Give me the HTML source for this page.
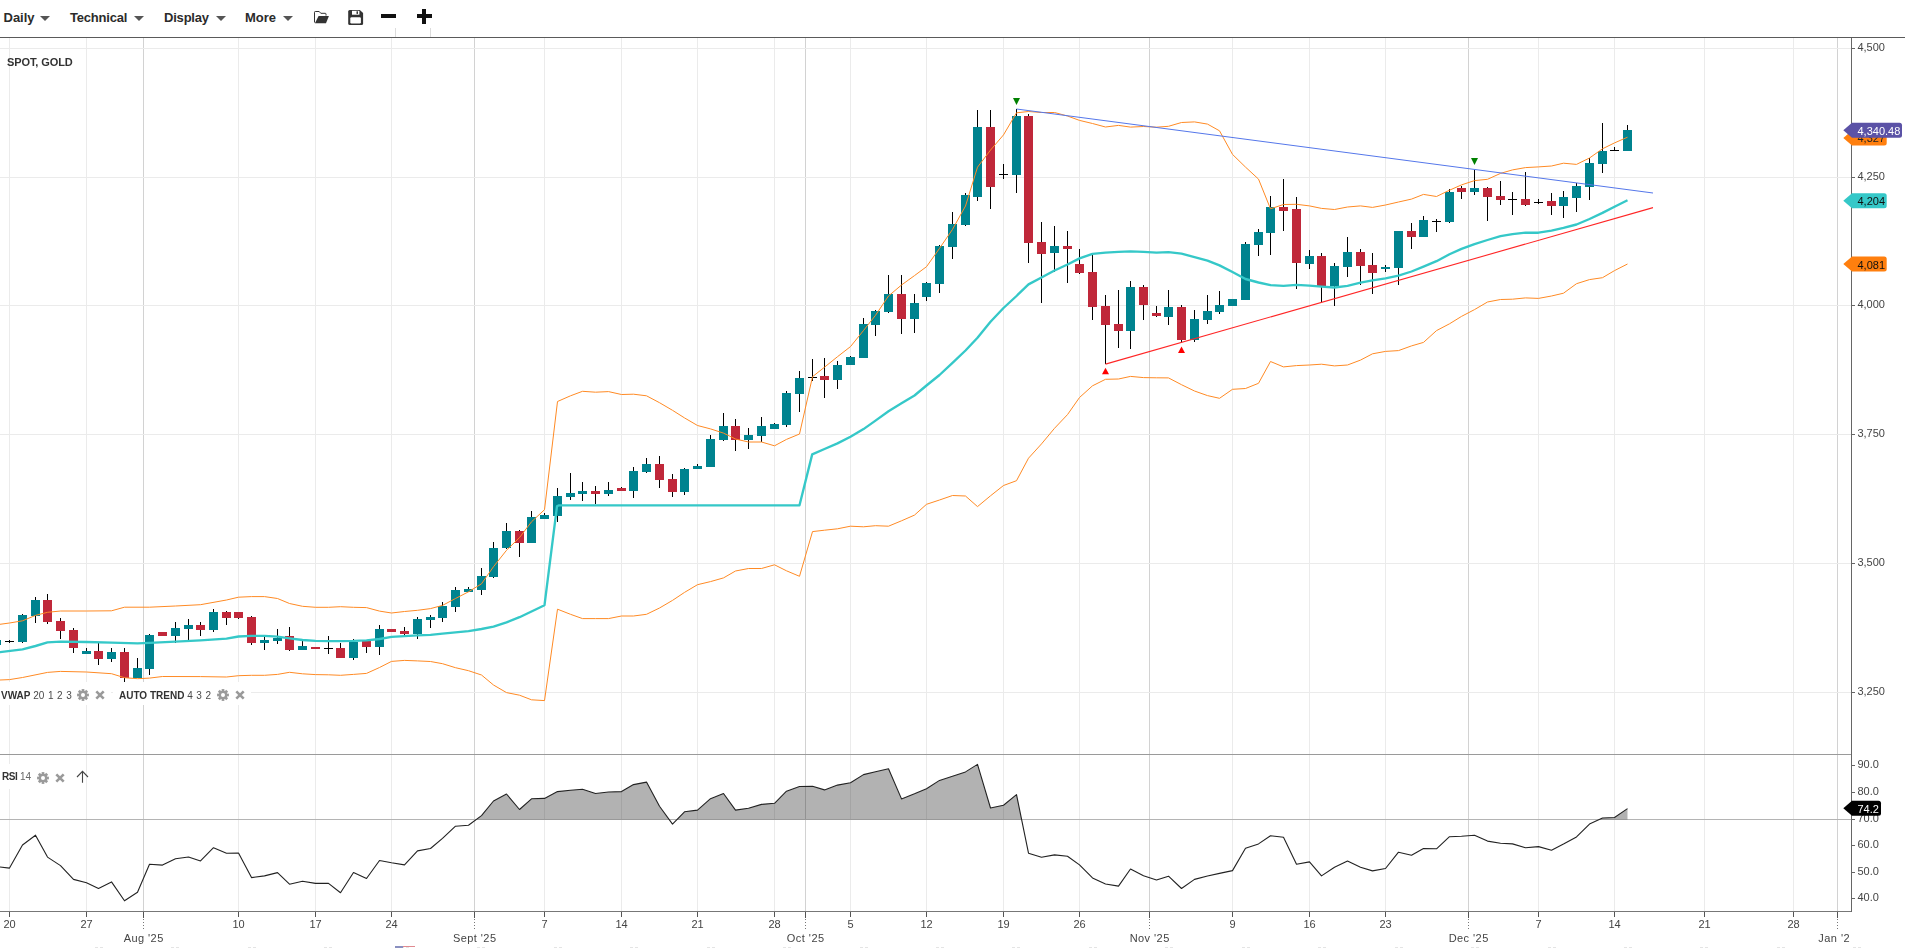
<!DOCTYPE html>
<html><head><meta charset="utf-8"><title>SPOT, GOLD</title>
<style>
html,body{margin:0;padding:0;background:#fff}
body{width:1905px;height:948px;overflow:hidden;position:relative;font-family:"Liberation Sans",sans-serif;color:#2b2b2b}
.tb{position:absolute;top:0;left:0;width:1905px;height:37px;border-bottom:1px solid #5a5a5a;background:#fff}
.m{position:absolute;top:10px;font-size:13px;font-weight:bold;line-height:15px;white-space:nowrap;color:#2b2b2b}
.ca{position:absolute;top:16px;width:0;height:0;border-left:5px solid transparent;border-right:5px solid transparent;border-top:5px solid #555}
.ic{position:absolute}
.lb{position:absolute;will-change:transform;font-size:10px;line-height:12px;white-space:nowrap;color:#4a4a4a;background:#fff}
.lb b{color:#333}
.sep{position:absolute;top:28px;width:1px;height:9px;background:#dcdcdc}
</style></head><body>
<svg width="1905" height="948" viewBox="0 0 1905 948" style="position:absolute;left:0;top:0;will-change:transform">
<defs><clipPath id="cp"><rect x="0" y="38" width="1851" height="716"/></clipPath><clipPath id="cr"><rect x="0" y="755" width="1851" height="156"/></clipPath><clipPath id="cx"><rect x="0" y="912" width="1851" height="36" transform="translate(0.6 0)"/></clipPath></defs>
<g shape-rendering="crispEdges">
<rect x="9" y="38" width="1" height="873" fill="#ebebeb"/>
<rect x="86" y="38" width="1" height="873" fill="#ebebeb"/>
<rect x="143" y="38" width="1" height="873" fill="#d2d2d2"/>
<rect x="238" y="38" width="1" height="873" fill="#ebebeb"/>
<rect x="315" y="38" width="1" height="873" fill="#ebebeb"/>
<rect x="391" y="38" width="1" height="873" fill="#ebebeb"/>
<rect x="474" y="38" width="1" height="873" fill="#d2d2d2"/>
<rect x="544" y="38" width="1" height="873" fill="#ebebeb"/>
<rect x="621" y="38" width="1" height="873" fill="#ebebeb"/>
<rect x="697" y="38" width="1" height="873" fill="#ebebeb"/>
<rect x="774" y="38" width="1" height="873" fill="#ebebeb"/>
<rect x="805" y="38" width="1" height="873" fill="#d2d2d2"/>
<rect x="850" y="38" width="1" height="873" fill="#ebebeb"/>
<rect x="926" y="38" width="1" height="873" fill="#ebebeb"/>
<rect x="1003" y="38" width="1" height="873" fill="#ebebeb"/>
<rect x="1079" y="38" width="1" height="873" fill="#ebebeb"/>
<rect x="1149" y="38" width="1" height="873" fill="#d2d2d2"/>
<rect x="1232" y="38" width="1" height="873" fill="#ebebeb"/>
<rect x="1309" y="38" width="1" height="873" fill="#ebebeb"/>
<rect x="1385" y="38" width="1" height="873" fill="#ebebeb"/>
<rect x="1468" y="38" width="1" height="873" fill="#d2d2d2"/>
<rect x="1538" y="38" width="1" height="873" fill="#ebebeb"/>
<rect x="1614" y="38" width="1" height="873" fill="#ebebeb"/>
<rect x="1704" y="38" width="1" height="873" fill="#ebebeb"/>
<rect x="1793" y="38" width="1" height="873" fill="#ebebeb"/>
<rect x="1837" y="38" width="1" height="873" fill="#d2d2d2"/>
<rect x="0" y="48" width="1851" height="1" fill="#ebebeb"/>
<rect x="0" y="177" width="1851" height="1" fill="#ebebeb"/>
<rect x="0" y="305" width="1851" height="1" fill="#ebebeb"/>
<rect x="0" y="434" width="1851" height="1" fill="#ebebeb"/>
<rect x="0" y="563" width="1851" height="1" fill="#ebebeb"/>
<rect x="0" y="692" width="1851" height="1" fill="#ebebeb"/>
</g>
<g clip-path="url(#cp)" fill="none">
<g shape-rendering="crispEdges">
<rect x="-4" y="640" width="1" height="5" fill="#000"/>
<rect x="-8" y="640" width="9" height="5" fill="#00838f"/>
<rect x="9" y="640" width="1" height="3" fill="#000"/>
<rect x="5" y="641" width="9" height="1" fill="#000"/>
<rect x="22" y="614" width="1" height="29" fill="#000"/>
<rect x="18" y="615" width="9" height="27" fill="#00838f"/>
<rect x="35" y="597" width="1" height="26" fill="#000"/>
<rect x="31" y="600" width="9" height="16" fill="#00838f"/>
<rect x="47" y="594" width="1" height="30" fill="#000"/>
<rect x="43" y="600" width="9" height="22" fill="#c0283a"/>
<rect x="60" y="618" width="1" height="21" fill="#000"/>
<rect x="56" y="621" width="9" height="10" fill="#c0283a"/>
<rect x="73" y="628" width="1" height="25" fill="#000"/>
<rect x="69" y="630" width="9" height="18" fill="#c0283a"/>
<rect x="86" y="648" width="1" height="6" fill="#000"/>
<rect x="82" y="651" width="9" height="3" fill="#00838f"/>
<rect x="98" y="643" width="1" height="22" fill="#000"/>
<rect x="94" y="651" width="9" height="8" fill="#c0283a"/>
<rect x="111" y="648" width="1" height="14" fill="#000"/>
<rect x="107" y="652" width="9" height="7" fill="#00838f"/>
<rect x="124" y="648" width="1" height="34" fill="#000"/>
<rect x="120" y="652" width="9" height="26" fill="#c0283a"/>
<rect x="137" y="658" width="1" height="20" fill="#000"/>
<rect x="133" y="668" width="9" height="10" fill="#00838f"/>
<rect x="149" y="634" width="1" height="41" fill="#000"/>
<rect x="145" y="635" width="9" height="34" fill="#00838f"/>
<rect x="162" y="632" width="1" height="4" fill="#000"/>
<rect x="158" y="632" width="9" height="4" fill="#c0283a"/>
<rect x="175" y="622" width="1" height="21" fill="#000"/>
<rect x="171" y="628" width="9" height="8" fill="#00838f"/>
<rect x="188" y="619" width="1" height="21" fill="#000"/>
<rect x="184" y="625" width="9" height="4" fill="#00838f"/>
<rect x="200" y="622" width="1" height="14" fill="#000"/>
<rect x="196" y="625" width="9" height="5" fill="#c0283a"/>
<rect x="213" y="609" width="1" height="23" fill="#000"/>
<rect x="209" y="612" width="9" height="18" fill="#00838f"/>
<rect x="226" y="611" width="1" height="14" fill="#000"/>
<rect x="222" y="612" width="9" height="6" fill="#c0283a"/>
<rect x="238" y="612" width="1" height="7" fill="#000"/>
<rect x="234" y="612" width="9" height="6" fill="#c0283a"/>
<rect x="251" y="616" width="1" height="29" fill="#000"/>
<rect x="247" y="617" width="9" height="26" fill="#c0283a"/>
<rect x="264" y="635" width="1" height="15" fill="#000"/>
<rect x="260" y="640" width="9" height="3" fill="#00838f"/>
<rect x="277" y="629" width="1" height="15" fill="#000"/>
<rect x="273" y="638" width="9" height="3" fill="#00838f"/>
<rect x="289" y="627" width="1" height="24" fill="#000"/>
<rect x="285" y="636" width="9" height="14" fill="#c0283a"/>
<rect x="302" y="641" width="1" height="9" fill="#000"/>
<rect x="298" y="646" width="9" height="4" fill="#00838f"/>
<rect x="315" y="647" width="1" height="2" fill="#000"/>
<rect x="311" y="647" width="9" height="2" fill="#c0283a"/>
<rect x="328" y="636" width="1" height="18" fill="#000"/>
<rect x="324" y="648" width="9" height="1" fill="#000"/>
<rect x="340" y="643" width="1" height="15" fill="#000"/>
<rect x="336" y="648" width="9" height="10" fill="#c0283a"/>
<rect x="353" y="639" width="1" height="21" fill="#000"/>
<rect x="349" y="642" width="9" height="16" fill="#00838f"/>
<rect x="366" y="641" width="1" height="12" fill="#000"/>
<rect x="362" y="641" width="9" height="6" fill="#c0283a"/>
<rect x="379" y="625" width="1" height="30" fill="#000"/>
<rect x="375" y="629" width="9" height="18" fill="#00838f"/>
<rect x="391" y="629" width="1" height="3" fill="#000"/>
<rect x="387" y="629" width="9" height="3" fill="#c0283a"/>
<rect x="404" y="627" width="1" height="8" fill="#000"/>
<rect x="400" y="631" width="9" height="3" fill="#c0283a"/>
<rect x="417" y="617" width="1" height="22" fill="#000"/>
<rect x="413" y="619" width="9" height="15" fill="#00838f"/>
<rect x="430" y="615" width="1" height="13" fill="#000"/>
<rect x="426" y="617" width="9" height="3" fill="#00838f"/>
<rect x="442" y="602" width="1" height="20" fill="#000"/>
<rect x="438" y="606" width="9" height="12" fill="#00838f"/>
<rect x="455" y="587" width="1" height="25" fill="#000"/>
<rect x="451" y="590" width="9" height="17" fill="#00838f"/>
<rect x="468" y="587" width="1" height="5" fill="#000"/>
<rect x="464" y="589" width="9" height="3" fill="#00838f"/>
<rect x="481" y="568" width="1" height="27" fill="#000"/>
<rect x="477" y="576" width="9" height="14" fill="#00838f"/>
<rect x="493" y="542" width="1" height="36" fill="#000"/>
<rect x="489" y="548" width="9" height="29" fill="#00838f"/>
<rect x="506" y="523" width="1" height="26" fill="#000"/>
<rect x="502" y="531" width="9" height="17" fill="#00838f"/>
<rect x="519" y="530" width="1" height="27" fill="#000"/>
<rect x="515" y="531" width="9" height="12" fill="#c0283a"/>
<rect x="531" y="511" width="1" height="32" fill="#000"/>
<rect x="527" y="517" width="9" height="26" fill="#00838f"/>
<rect x="544" y="513" width="1" height="6" fill="#000"/>
<rect x="540" y="515" width="9" height="4" fill="#00838f"/>
<rect x="557" y="488" width="1" height="34" fill="#000"/>
<rect x="553" y="496" width="9" height="20" fill="#00838f"/>
<rect x="570" y="473" width="1" height="27" fill="#000"/>
<rect x="566" y="493" width="9" height="4" fill="#00838f"/>
<rect x="582" y="482" width="1" height="19" fill="#000"/>
<rect x="578" y="491" width="9" height="3" fill="#00838f"/>
<rect x="595" y="486" width="1" height="18" fill="#000"/>
<rect x="591" y="491" width="9" height="3" fill="#c0283a"/>
<rect x="608" y="482" width="1" height="14" fill="#000"/>
<rect x="604" y="490" width="9" height="4" fill="#00838f"/>
<rect x="621" y="487" width="1" height="4" fill="#000"/>
<rect x="617" y="488" width="9" height="3" fill="#c0283a"/>
<rect x="633" y="467" width="1" height="31" fill="#000"/>
<rect x="629" y="471" width="9" height="20" fill="#00838f"/>
<rect x="646" y="458" width="1" height="15" fill="#000"/>
<rect x="642" y="464" width="9" height="8" fill="#00838f"/>
<rect x="659" y="456" width="1" height="32" fill="#000"/>
<rect x="655" y="464" width="9" height="16" fill="#c0283a"/>
<rect x="672" y="474" width="1" height="23" fill="#000"/>
<rect x="668" y="479" width="9" height="13" fill="#c0283a"/>
<rect x="684" y="468" width="1" height="27" fill="#000"/>
<rect x="680" y="469" width="9" height="23" fill="#00838f"/>
<rect x="697" y="464" width="1" height="5" fill="#000"/>
<rect x="693" y="466" width="9" height="3" fill="#00838f"/>
<rect x="710" y="435" width="1" height="32" fill="#000"/>
<rect x="706" y="439" width="9" height="28" fill="#00838f"/>
<rect x="723" y="413" width="1" height="28" fill="#000"/>
<rect x="719" y="426" width="9" height="14" fill="#00838f"/>
<rect x="735" y="419" width="1" height="32" fill="#000"/>
<rect x="731" y="426" width="9" height="14" fill="#c0283a"/>
<rect x="748" y="428" width="1" height="21" fill="#000"/>
<rect x="744" y="435" width="9" height="5" fill="#00838f"/>
<rect x="761" y="417" width="1" height="25" fill="#000"/>
<rect x="757" y="426" width="9" height="10" fill="#00838f"/>
<rect x="774" y="423" width="1" height="6" fill="#000"/>
<rect x="770" y="424" width="9" height="5" fill="#00838f"/>
<rect x="786" y="391" width="1" height="36" fill="#000"/>
<rect x="782" y="393" width="9" height="32" fill="#00838f"/>
<rect x="799" y="371" width="1" height="41" fill="#000"/>
<rect x="795" y="378" width="9" height="16" fill="#00838f"/>
<rect x="812" y="359" width="1" height="22" fill="#000"/>
<rect x="808" y="377" width="9" height="1" fill="#000"/>
<rect x="824" y="358" width="1" height="40" fill="#000"/>
<rect x="820" y="376" width="9" height="4" fill="#c0283a"/>
<rect x="837" y="361" width="1" height="28" fill="#000"/>
<rect x="833" y="365" width="9" height="15" fill="#00838f"/>
<rect x="850" y="356" width="1" height="9" fill="#000"/>
<rect x="846" y="357" width="9" height="8" fill="#00838f"/>
<rect x="863" y="318" width="1" height="40" fill="#000"/>
<rect x="859" y="324" width="9" height="34" fill="#00838f"/>
<rect x="875" y="310" width="1" height="26" fill="#000"/>
<rect x="871" y="311" width="9" height="14" fill="#00838f"/>
<rect x="888" y="275" width="1" height="38" fill="#000"/>
<rect x="884" y="294" width="9" height="18" fill="#00838f"/>
<rect x="901" y="275" width="1" height="59" fill="#000"/>
<rect x="897" y="294" width="9" height="25" fill="#c0283a"/>
<rect x="914" y="294" width="1" height="39" fill="#000"/>
<rect x="910" y="303" width="9" height="16" fill="#00838f"/>
<rect x="926" y="282" width="1" height="19" fill="#000"/>
<rect x="922" y="283" width="9" height="14" fill="#00838f"/>
<rect x="939" y="245" width="1" height="48" fill="#000"/>
<rect x="935" y="246" width="9" height="38" fill="#00838f"/>
<rect x="952" y="212" width="1" height="47" fill="#000"/>
<rect x="948" y="224" width="9" height="23" fill="#00838f"/>
<rect x="965" y="193" width="1" height="33" fill="#000"/>
<rect x="961" y="195" width="9" height="30" fill="#00838f"/>
<rect x="977" y="110" width="1" height="91" fill="#000"/>
<rect x="973" y="127" width="9" height="70" fill="#00838f"/>
<rect x="990" y="110" width="1" height="99" fill="#000"/>
<rect x="986" y="127" width="9" height="60" fill="#c0283a"/>
<rect x="1003" y="164" width="1" height="15" fill="#000"/>
<rect x="999" y="174" width="9" height="1" fill="#000"/>
<rect x="1016" y="109" width="1" height="84" fill="#000"/>
<rect x="1012" y="116" width="9" height="59" fill="#00838f"/>
<rect x="1028" y="114" width="1" height="149" fill="#000"/>
<rect x="1024" y="116" width="9" height="127" fill="#c0283a"/>
<rect x="1041" y="222" width="1" height="81" fill="#000"/>
<rect x="1037" y="242" width="9" height="12" fill="#c0283a"/>
<rect x="1054" y="226" width="1" height="46" fill="#000"/>
<rect x="1050" y="246" width="9" height="7" fill="#00838f"/>
<rect x="1067" y="231" width="1" height="52" fill="#000"/>
<rect x="1063" y="246" width="9" height="3" fill="#c0283a"/>
<rect x="1079" y="249" width="1" height="25" fill="#000"/>
<rect x="1075" y="264" width="9" height="9" fill="#c0283a"/>
<rect x="1092" y="255" width="1" height="65" fill="#000"/>
<rect x="1088" y="272" width="9" height="35" fill="#c0283a"/>
<rect x="1105" y="295" width="1" height="69" fill="#000"/>
<rect x="1101" y="306" width="9" height="19" fill="#c0283a"/>
<rect x="1118" y="290" width="1" height="58" fill="#000"/>
<rect x="1114" y="324" width="9" height="7" fill="#c0283a"/>
<rect x="1130" y="281" width="1" height="68" fill="#000"/>
<rect x="1126" y="287" width="9" height="44" fill="#00838f"/>
<rect x="1143" y="285" width="1" height="35" fill="#000"/>
<rect x="1139" y="287" width="9" height="18" fill="#c0283a"/>
<rect x="1156" y="306" width="1" height="11" fill="#000"/>
<rect x="1152" y="313" width="9" height="3" fill="#c0283a"/>
<rect x="1168" y="290" width="1" height="35" fill="#000"/>
<rect x="1164" y="307" width="9" height="10" fill="#00838f"/>
<rect x="1181" y="305" width="1" height="38" fill="#000"/>
<rect x="1177" y="307" width="9" height="33" fill="#c0283a"/>
<rect x="1194" y="310" width="1" height="32" fill="#000"/>
<rect x="1190" y="319" width="9" height="21" fill="#00838f"/>
<rect x="1207" y="295" width="1" height="29" fill="#000"/>
<rect x="1203" y="311" width="9" height="9" fill="#00838f"/>
<rect x="1219" y="291" width="1" height="23" fill="#000"/>
<rect x="1215" y="305" width="9" height="7" fill="#00838f"/>
<rect x="1232" y="299" width="1" height="7" fill="#000"/>
<rect x="1228" y="299" width="9" height="7" fill="#00838f"/>
<rect x="1245" y="242" width="1" height="58" fill="#000"/>
<rect x="1241" y="244" width="9" height="56" fill="#00838f"/>
<rect x="1258" y="229" width="1" height="27" fill="#000"/>
<rect x="1254" y="232" width="9" height="13" fill="#00838f"/>
<rect x="1270" y="196" width="1" height="59" fill="#000"/>
<rect x="1266" y="207" width="9" height="26" fill="#00838f"/>
<rect x="1283" y="179" width="1" height="52" fill="#000"/>
<rect x="1279" y="207" width="9" height="4" fill="#c0283a"/>
<rect x="1296" y="197" width="1" height="92" fill="#000"/>
<rect x="1292" y="209" width="9" height="54" fill="#c0283a"/>
<rect x="1309" y="250" width="1" height="19" fill="#000"/>
<rect x="1305" y="256" width="9" height="8" fill="#00838f"/>
<rect x="1321" y="253" width="1" height="49" fill="#000"/>
<rect x="1317" y="256" width="9" height="30" fill="#c0283a"/>
<rect x="1334" y="263" width="1" height="43" fill="#000"/>
<rect x="1330" y="266" width="9" height="20" fill="#00838f"/>
<rect x="1347" y="237" width="1" height="40" fill="#000"/>
<rect x="1343" y="252" width="9" height="15" fill="#00838f"/>
<rect x="1360" y="249" width="1" height="36" fill="#000"/>
<rect x="1356" y="252" width="9" height="14" fill="#c0283a"/>
<rect x="1372" y="253" width="1" height="41" fill="#000"/>
<rect x="1368" y="265" width="9" height="8" fill="#c0283a"/>
<rect x="1385" y="265" width="1" height="7" fill="#000"/>
<rect x="1381" y="267" width="9" height="2" fill="#00838f"/>
<rect x="1398" y="231" width="1" height="54" fill="#000"/>
<rect x="1394" y="231" width="9" height="37" fill="#00838f"/>
<rect x="1411" y="223" width="1" height="26" fill="#000"/>
<rect x="1407" y="231" width="9" height="6" fill="#c0283a"/>
<rect x="1423" y="216" width="1" height="21" fill="#000"/>
<rect x="1419" y="220" width="9" height="17" fill="#00838f"/>
<rect x="1436" y="219" width="1" height="13" fill="#000"/>
<rect x="1432" y="221" width="9" height="1" fill="#000"/>
<rect x="1449" y="189" width="1" height="34" fill="#000"/>
<rect x="1445" y="192" width="9" height="30" fill="#00838f"/>
<rect x="1461" y="186" width="1" height="13" fill="#000"/>
<rect x="1457" y="188" width="9" height="4" fill="#c0283a"/>
<rect x="1474" y="170" width="1" height="25" fill="#000"/>
<rect x="1470" y="188" width="9" height="4" fill="#00838f"/>
<rect x="1487" y="187" width="1" height="34" fill="#000"/>
<rect x="1483" y="188" width="9" height="9" fill="#c0283a"/>
<rect x="1500" y="181" width="1" height="24" fill="#000"/>
<rect x="1496" y="196" width="9" height="4" fill="#c0283a"/>
<rect x="1512" y="192" width="1" height="23" fill="#000"/>
<rect x="1508" y="199" width="9" height="1" fill="#000"/>
<rect x="1525" y="172" width="1" height="34" fill="#000"/>
<rect x="1521" y="199" width="9" height="6" fill="#c0283a"/>
<rect x="1538" y="199" width="1" height="5" fill="#000"/>
<rect x="1534" y="202" width="9" height="1" fill="#000"/>
<rect x="1551" y="193" width="1" height="22" fill="#000"/>
<rect x="1547" y="201" width="9" height="5" fill="#c0283a"/>
<rect x="1563" y="191" width="1" height="27" fill="#000"/>
<rect x="1559" y="197" width="9" height="9" fill="#00838f"/>
<rect x="1576" y="183" width="1" height="29" fill="#000"/>
<rect x="1572" y="186" width="9" height="12" fill="#00838f"/>
<rect x="1589" y="158" width="1" height="42" fill="#000"/>
<rect x="1585" y="163" width="9" height="24" fill="#00838f"/>
<rect x="1602" y="123" width="1" height="50" fill="#000"/>
<rect x="1598" y="151" width="9" height="13" fill="#00838f"/>
<rect x="1614" y="147" width="1" height="4" fill="#000"/>
<rect x="1610" y="150" width="9" height="1" fill="#000"/>
<rect x="1627" y="125" width="1" height="26" fill="#000"/>
<rect x="1623" y="130" width="9" height="21" fill="#00838f"/>
</g>
<polyline points="-3.0,680.2 0.0,680.0 9.5,679.6 22.5,677.5 47.5,672.4 60.5,671.4 86.5,672.0 111.5,673.7 124.5,677.7 137.5,678.7 149.5,678.1 162.5,676.5 200.5,676.6 226.5,677.0 238.5,675.7 251.5,675.3 264.5,675.3 277.5,674.4 289.5,672.3 302.5,673.8 315.5,674.6 328.5,674.8 340.5,675.3 353.5,674.4 366.5,673.4 379.5,667.5 391.5,661.4 404.5,660.4 417.5,660.9 430.5,661.5 442.5,663.7 455.5,667.7 468.5,670.7 481.5,675.0 493.5,685.0 506.5,692.6 519.5,695.2 531.5,699.8 544.5,700.6 557.5,609.2 570.5,614.3 582.5,618.6 595.5,618.6 608.5,618.6 621.5,616.0 633.5,616.0 646.5,614.3 659.5,608.0 672.5,600.4 684.5,592.4 697.5,584.7 710.5,581.6 723.5,577.9 735.5,571.0 748.5,568.5 761.5,568.5 774.5,564.8 786.5,570.8 799.5,576.3 812.5,531.6 824.5,530.2 837.5,528.8 850.5,526.2 863.5,526.8 875.5,525.7 888.5,526.2 901.5,520.8 914.5,515.1 926.5,504.3 939.5,500.0 952.5,495.5 965.5,496.0 977.5,506.6 990.5,495.8 1003.5,485.5 1016.5,480.7 1028.5,458.2 1041.5,443.9 1054.5,428.3 1067.5,414.6 1079.5,397.5 1092.5,385.8 1105.5,379.3 1118.5,379.0 1130.5,376.4 1143.5,377.6 1156.5,377.8 1168.5,377.9 1181.5,384.7 1194.5,391.0 1207.5,395.6 1219.5,398.3 1232.5,389.3 1245.5,388.5 1258.5,383.3 1270.5,361.5 1283.5,366.9 1296.5,365.6 1309.5,365.0 1321.5,364.2 1334.5,365.9 1347.5,365.0 1360.5,360.1 1372.5,353.8 1385.5,351.4 1398.5,350.6 1411.5,345.9 1423.5,342.4 1436.5,330.6 1449.5,323.8 1461.5,316.4 1474.5,309.6 1487.5,302.0 1500.5,299.5 1512.5,299.2 1525.5,297.9 1538.5,298.4 1551.5,296.0 1563.5,293.2 1576.5,283.7 1589.5,279.6 1602.5,277.7 1614.5,270.6 1627.5,264.0" stroke="#ff8a24" stroke-width="1" stroke-linejoin="round"/>
<polyline points="-3.0,624.6 0.0,624.3 9.5,623.0 22.5,620.8 35.5,615.4 47.5,612.3 60.5,611.0 86.5,611.0 111.5,610.8 124.5,607.2 149.5,607.2 175.5,606.0 200.5,604.7 226.5,600.0 238.5,597.2 251.5,596.6 264.5,596.6 277.5,598.5 289.5,603.5 302.5,606.3 315.5,607.3 328.5,607.3 340.5,606.7 353.5,607.3 366.5,607.6 379.5,611.1 391.5,613.0 404.5,611.5 417.5,610.3 430.5,608.6 442.5,605.4 455.5,598.5 468.5,591.8 481.5,583.8 493.5,566.7 506.5,550.3 519.5,537.6 531.5,521.8 544.5,509.7 557.5,401.5 570.5,395.8 582.5,391.3 595.5,392.2 608.5,391.6 621.5,394.5 633.5,394.2 646.5,395.8 659.5,402.7 672.5,410.3 684.5,417.9 697.5,425.5 710.5,428.9 723.5,433.1 735.5,439.0 748.5,442.0 761.5,442.0 774.5,445.8 786.5,439.4 799.5,434.0 812.5,376.7 824.5,367.2 837.5,356.7 850.5,346.6 863.5,330.5 875.5,315.3 888.5,296.0 901.5,285.0 914.5,275.6 926.5,266.7 939.5,248.4 952.5,229.4 965.5,206.0 977.5,167.2 990.5,150.1 1003.5,134.9 1016.5,112.8 1028.5,111.5 1041.5,112.5 1054.5,112.5 1067.5,116.0 1079.5,120.4 1092.5,123.5 1105.5,127.0 1118.5,125.4 1130.5,127.1 1143.5,126.5 1156.5,127.2 1168.5,126.3 1181.5,122.5 1194.5,121.9 1207.5,124.1 1219.5,130.8 1232.5,154.4 1245.5,167.1 1258.5,179.1 1270.5,208.8 1283.5,204.5 1296.5,204.3 1309.5,205.9 1321.5,208.4 1334.5,209.5 1347.5,207.0 1360.5,205.9 1372.5,207.4 1385.5,205.0 1398.5,202.0 1411.5,199.1 1423.5,194.4 1436.5,196.5 1449.5,190.2 1461.5,184.9 1474.5,180.6 1487.5,179.3 1500.5,173.4 1512.5,169.9 1525.5,167.6 1538.5,166.9 1551.5,166.0 1563.5,163.2 1576.5,164.4 1589.5,158.0 1602.5,148.8 1614.5,142.9 1627.5,137.2" stroke="#ff8a24" stroke-width="1" stroke-linejoin="round"/>
<polyline points="-3.0,652.5 0.0,652.2 22.5,649.4 35.5,646.0 47.5,642.4 60.5,641.6 86.5,642.0 111.5,642.7 137.5,643.3 149.5,642.9 175.5,641.6 200.5,640.4 226.5,638.6 238.5,636.5 251.5,635.8 264.5,635.8 277.5,636.7 289.5,638.4 302.5,640.0 315.5,640.9 328.5,641.1 340.5,641.1 353.5,640.9 366.5,640.3 379.5,639.0 391.5,636.8 404.5,636.1 417.5,635.4 430.5,634.8 442.5,633.7 455.5,632.4 468.5,631.1 481.5,629.0 493.5,626.6 506.5,622.3 519.5,617.2 531.5,611.5 544.5,605.2 557.0,506.3 559.0,505.3 799.5,505.3 812.2,454.4 824.5,449.0 837.5,443.4 850.5,436.8 863.5,429.1 875.5,420.6 888.5,411.2 901.5,403.2 914.5,395.5 926.5,385.5 939.5,375.0 952.5,362.8 965.5,350.5 977.5,337.7 990.5,321.8 1003.5,308.0 1016.5,296.0 1028.5,284.4 1041.5,277.5 1054.5,270.5 1067.5,264.5 1079.5,258.4 1092.5,253.8 1105.5,252.6 1118.5,251.9 1130.5,251.4 1143.5,251.9 1156.5,252.6 1168.5,252.1 1181.5,253.7 1194.5,257.1 1207.5,260.6 1219.5,265.4 1232.5,272.0 1245.5,279.0 1258.5,282.5 1270.5,285.2 1283.5,285.9 1296.5,284.9 1309.5,285.6 1321.5,286.6 1334.5,287.5 1347.5,285.9 1360.5,282.7 1372.5,280.4 1385.5,278.3 1398.5,275.6 1411.5,271.5 1423.5,266.7 1436.5,261.2 1449.5,254.3 1461.5,248.9 1474.5,244.1 1487.5,240.0 1500.5,236.2 1512.5,234.1 1525.5,232.7 1538.5,232.7 1551.5,230.7 1563.5,227.9 1576.5,224.5 1589.5,219.0 1602.5,212.9 1614.5,206.7 1627.5,200.3" stroke="#35c8c8" stroke-width="2.35" stroke-linejoin="round" stroke-linecap="butt"/>
<line x1="1016.5" y1="109" x2="1653" y2="193" stroke="#5577ea" stroke-width="1"/>
<line x1="1105.5" y1="364.1" x2="1653" y2="207.6" stroke="#ff2626" stroke-width="1.1"/>
<path d="M1013 98h7l-3.5 7z" fill="#008000"/>
<path d="M1471 158h7l-3.5 7z" fill="#008000"/>
<path d="M1102 374.3h7l-3.5-6.6z" fill="#ff0000"/>
<path d="M1178 353h7l-3.5-6.6z" fill="#ff0000"/>
</g>
<g shape-rendering="crispEdges"><rect x="0" y="754" width="1851" height="1" fill="#9a9a9a"/><rect x="0" y="819" width="1851" height="1" fill="#b4b4b4"/></g>
<g clip-path="url(#cr)">
<polygon points="476.2,819.5 481.5,815.6 493.5,801.0 506.5,794.0 519.5,809.5 531.5,798.8 544.5,798.4 557.5,791.6 570.5,790.2 582.5,789.3 595.5,793.5 608.5,792.0 621.5,791.6 633.5,784.6 646.5,782.1 659.5,806.3 669.1,819.5" fill="#000" fill-opacity="0.3"/>
<polygon points="677.0,819.5 684.5,811.8 697.5,810.1 710.5,798.7 723.5,793.5 735.5,810.1 748.5,808.2 761.5,804.4 774.5,803.3 786.5,791.2 799.5,786.5 812.5,786.3 824.5,789.9 837.5,785.1 850.5,782.7 863.5,774.6 875.5,771.7 888.5,768.7 901.5,798.9 914.5,793.8 926.5,788.7 939.5,780.4 952.5,776.3 965.5,771.9 977.5,764.4 990.5,808.0 1003.5,805.2 1016.5,794.6 1021.6,819.5" fill="#000" fill-opacity="0.3"/>
<polygon points="1599.3,819.5 1602.5,818.0 1614.5,817.5 1627.5,808.6 1627.5,819.5" fill="#000" fill-opacity="0.3"/>
<polyline points="-3.5,866.6 9.5,868.1 22.5,845.0 35.5,835.2 47.5,857.1 60.5,865.6 73.5,879.4 86.5,882.8 98.5,888.5 111.5,881.9 124.5,900.8 137.5,892.3 149.5,864.3 162.5,865.1 175.5,858.8 188.5,857.0 200.5,860.9 213.5,847.7 226.5,853.2 238.5,853.0 251.5,877.6 264.5,875.9 277.5,872.6 289.5,884.2 302.5,881.3 315.5,883.4 328.5,883.4 340.5,892.7 353.5,872.5 366.5,878.5 379.5,860.5 391.5,862.8 404.5,864.9 417.5,850.9 430.5,848.5 442.5,838.4 455.5,826.2 468.5,825.2 481.5,815.6 493.5,801.0 506.5,794.0 519.5,809.5 531.5,798.8 544.5,798.4 557.5,791.6 570.5,790.2 582.5,789.3 595.5,793.5 608.5,792.0 621.5,791.6 633.5,784.6 646.5,782.1 659.5,806.3 672.5,824.1 684.5,811.8 697.5,810.1 710.5,798.7 723.5,793.5 735.5,810.1 748.5,808.2 761.5,804.4 774.5,803.3 786.5,791.2 799.5,786.5 812.5,786.3 824.5,789.9 837.5,785.1 850.5,782.7 863.5,774.6 875.5,771.7 888.5,768.7 901.5,798.9 914.5,793.8 926.5,788.7 939.5,780.4 952.5,776.3 965.5,771.9 977.5,764.4 990.5,808.0 1003.5,805.2 1016.5,794.6 1028.5,853.2 1041.5,857.3 1054.5,854.9 1067.5,856.2 1079.5,864.9 1092.5,877.9 1105.5,884.0 1118.5,886.1 1130.5,869.0 1143.5,875.7 1156.5,880.0 1168.5,876.2 1181.5,888.5 1194.5,879.4 1207.5,876.0 1219.5,873.4 1232.5,870.6 1245.5,848.3 1258.5,843.9 1270.5,835.8 1283.5,837.3 1296.5,864.3 1309.5,861.9 1321.5,875.9 1334.5,867.2 1347.5,861.1 1360.5,867.2 1372.5,870.9 1385.5,868.5 1398.5,852.2 1411.5,855.3 1423.5,848.5 1436.5,848.8 1449.5,836.7 1461.5,836.2 1474.5,835.2 1487.5,841.1 1500.5,843.3 1512.5,843.9 1525.5,847.7 1538.5,846.6 1551.5,850.2 1563.5,844.1 1576.5,836.9 1589.5,824.1 1602.5,818.0 1614.5,817.5 1627.5,808.6" fill="none" stroke="#222" stroke-width="1.1" stroke-linejoin="round"/>
</g>
<g shape-rendering="crispEdges">
<rect x="0" y="911" width="1852" height="1" fill="#777"/>
<rect x="1851" y="38" width="1" height="874" fill="#666"/>
<rect x="9" y="912" width="1" height="5" fill="#555"/>
<rect x="86" y="912" width="1" height="5" fill="#555"/>
<rect x="143" y="912" width="1" height="6" fill="#555"/>
<rect x="143" y="919" width="1" height="1" fill="#777"/>
<rect x="143" y="922" width="1" height="1" fill="#777"/>
<rect x="143" y="925" width="1" height="1" fill="#777"/>
<rect x="143" y="928" width="1" height="1" fill="#777"/>
<rect x="238" y="912" width="1" height="5" fill="#555"/>
<rect x="315" y="912" width="1" height="5" fill="#555"/>
<rect x="391" y="912" width="1" height="5" fill="#555"/>
<rect x="474" y="912" width="1" height="6" fill="#555"/>
<rect x="474" y="919" width="1" height="1" fill="#777"/>
<rect x="474" y="922" width="1" height="1" fill="#777"/>
<rect x="474" y="925" width="1" height="1" fill="#777"/>
<rect x="474" y="928" width="1" height="1" fill="#777"/>
<rect x="544" y="912" width="1" height="5" fill="#555"/>
<rect x="621" y="912" width="1" height="5" fill="#555"/>
<rect x="697" y="912" width="1" height="5" fill="#555"/>
<rect x="774" y="912" width="1" height="5" fill="#555"/>
<rect x="805" y="912" width="1" height="6" fill="#555"/>
<rect x="805" y="919" width="1" height="1" fill="#777"/>
<rect x="805" y="922" width="1" height="1" fill="#777"/>
<rect x="805" y="925" width="1" height="1" fill="#777"/>
<rect x="805" y="928" width="1" height="1" fill="#777"/>
<rect x="850" y="912" width="1" height="5" fill="#555"/>
<rect x="926" y="912" width="1" height="5" fill="#555"/>
<rect x="1003" y="912" width="1" height="5" fill="#555"/>
<rect x="1079" y="912" width="1" height="5" fill="#555"/>
<rect x="1149" y="912" width="1" height="6" fill="#555"/>
<rect x="1149" y="919" width="1" height="1" fill="#777"/>
<rect x="1149" y="922" width="1" height="1" fill="#777"/>
<rect x="1149" y="925" width="1" height="1" fill="#777"/>
<rect x="1149" y="928" width="1" height="1" fill="#777"/>
<rect x="1232" y="912" width="1" height="5" fill="#555"/>
<rect x="1309" y="912" width="1" height="5" fill="#555"/>
<rect x="1385" y="912" width="1" height="5" fill="#555"/>
<rect x="1468" y="912" width="1" height="6" fill="#555"/>
<rect x="1468" y="919" width="1" height="1" fill="#777"/>
<rect x="1468" y="922" width="1" height="1" fill="#777"/>
<rect x="1468" y="925" width="1" height="1" fill="#777"/>
<rect x="1468" y="928" width="1" height="1" fill="#777"/>
<rect x="1538" y="912" width="1" height="5" fill="#555"/>
<rect x="1614" y="912" width="1" height="5" fill="#555"/>
<rect x="1704" y="912" width="1" height="5" fill="#555"/>
<rect x="1793" y="912" width="1" height="5" fill="#555"/>
<rect x="1837" y="912" width="1" height="6" fill="#555"/>
<rect x="1837" y="919" width="1" height="1" fill="#777"/>
<rect x="1837" y="922" width="1" height="1" fill="#777"/>
<rect x="1837" y="925" width="1" height="1" fill="#777"/>
<rect x="1837" y="928" width="1" height="1" fill="#777"/>
<rect x="1852" y="48" width="3" height="1" fill="#666"/>
<rect x="1852" y="177" width="3" height="1" fill="#666"/>
<rect x="1852" y="305" width="3" height="1" fill="#666"/>
<rect x="1852" y="434" width="3" height="1" fill="#666"/>
<rect x="1852" y="563" width="3" height="1" fill="#666"/>
<rect x="1852" y="692" width="3" height="1" fill="#666"/>
<rect x="1852" y="765" width="3" height="1" fill="#666"/>
<rect x="1852" y="792" width="3" height="1" fill="#666"/>
<rect x="1852" y="819" width="3" height="1" fill="#666"/>
<rect x="1852" y="845" width="3" height="1" fill="#666"/>
<rect x="1852" y="872" width="3" height="1" fill="#666"/>
<rect x="1852" y="898" width="3" height="1" fill="#666"/>
</g>
<g font-family="Liberation Sans, sans-serif" font-size="11" fill="#444">
<text x="1857.4" y="50.9">4,500</text>
<text x="1857.4" y="179.9">4,250</text>
<text x="1857.4" y="307.9">4,000</text>
<text x="1857.4" y="436.9">3,750</text>
<text x="1857.4" y="565.9">3,500</text>
<text x="1857.4" y="694.9">3,250</text>
<text x="1857.4" y="767.9">90.0</text>
<text x="1857.4" y="794.9">80.0</text>
<text x="1857.4" y="821.9">70.0</text>
<text x="1857.4" y="847.9">60.0</text>
<text x="1857.4" y="874.9">50.0</text>
<text x="1857.4" y="900.9">40.0</text>
<g clip-path="url(#cx)" text-anchor="middle">
<text x="9.5" y="928">20</text>
<text x="86.5" y="928">27</text>
<text x="143.7" y="942" letter-spacing="0.45">Aug '25</text>
<text x="238.5" y="928">10</text>
<text x="315.5" y="928">17</text>
<text x="391.5" y="928">24</text>
<text x="474.7" y="942" letter-spacing="0.45">Sept '25</text>
<text x="544.5" y="928">7</text>
<text x="621.5" y="928">14</text>
<text x="697.5" y="928">21</text>
<text x="774.5" y="928">28</text>
<text x="805.7" y="942" letter-spacing="0.45">Oct '25</text>
<text x="850.5" y="928">5</text>
<text x="926.5" y="928">12</text>
<text x="1003.5" y="928">19</text>
<text x="1079.5" y="928">26</text>
<text x="1149.7" y="942" letter-spacing="0.45">Nov '25</text>
<text x="1232.5" y="928">9</text>
<text x="1309.5" y="928">16</text>
<text x="1385.5" y="928">23</text>
<text x="1468.7" y="942" letter-spacing="0.45">Dec '25</text>
<text x="1538.5" y="928">7</text>
<text x="1614.5" y="928">14</text>
<text x="1704.5" y="928">21</text>
<text x="1793.5" y="928">28</text>
<text x="1818.3" y="942" letter-spacing="0.45" text-anchor="start">Jan '2</text>
</g></g>
<path d="M1843.3 137.9L1852 130.4H1884.2Q1886.7 130.4 1886.7 132.9V142.9Q1886.7 145.4 1884.2 145.4H1852Z" fill="#ff7f0e"/>
<text x="1857.5" y="142.3" font-family="Liberation Sans, sans-serif" font-size="11" fill="#222">4,327</text>
<path d="M1843.3 130.2L1852 122.7H1899.5Q1902.0 122.7 1902.0 125.2V135.2Q1902.0 137.7 1899.5 137.7H1852Z" fill="#5b52a6"/>
<text x="1857.5" y="134.6" font-family="Liberation Sans, sans-serif" font-size="11" fill="#fff">4,340.48</text>
<path d="M1843.3 200.7L1852 193.2H1884.2Q1886.7 193.2 1886.7 195.7V205.7Q1886.7 208.2 1884.2 208.2H1852Z" fill="#35c8c8"/>
<text x="1857.5" y="205.1" font-family="Liberation Sans, sans-serif" font-size="11" fill="#111">4,204</text>
<path d="M1843.3 264.1L1852 256.6H1884.2Q1886.7 256.6 1886.7 259.1V269.1Q1886.7 271.6 1884.2 271.6H1852Z" fill="#ff7f0e"/>
<text x="1857.5" y="268.5" font-family="Liberation Sans, sans-serif" font-size="11" fill="#111">4,081</text>
<path d="M1843.3 808.3L1852 800.8H1878.5Q1881.0 800.8 1881.0 803.3V813.3Q1881.0 815.8 1878.5 815.8H1852Z" fill="#000"/>
<text x="1857.5" y="812.7" font-family="Liberation Sans, sans-serif" font-size="11" fill="#fff">74.2</text>
<g fill="#e4e4e4">
<rect x="95" y="947" width="3" height="1"/><rect x="100" y="947" width="3" height="1"/>
<rect x="171" y="947" width="3" height="1"/><rect x="176" y="947" width="3" height="1"/>
<rect x="248" y="947" width="3" height="1"/><rect x="253" y="947" width="3" height="1"/>
<rect x="324" y="947" width="3" height="1"/><rect x="329" y="947" width="3" height="1"/>
<rect x="401" y="947" width="3" height="1"/><rect x="406" y="947" width="3" height="1"/>
<rect x="477" y="947" width="3" height="1"/><rect x="482" y="947" width="3" height="1"/>
<rect x="554" y="947" width="3" height="1"/><rect x="559" y="947" width="3" height="1"/>
<rect x="630" y="947" width="3" height="1"/><rect x="635" y="947" width="3" height="1"/>
<rect x="707" y="947" width="3" height="1"/><rect x="712" y="947" width="3" height="1"/>
<rect x="783" y="947" width="3" height="1"/><rect x="788" y="947" width="3" height="1"/>
<rect x="860" y="947" width="3" height="1"/><rect x="865" y="947" width="3" height="1"/>
<rect x="936" y="947" width="3" height="1"/><rect x="941" y="947" width="3" height="1"/>
<rect x="1012" y="947" width="3" height="1"/><rect x="1017" y="947" width="3" height="1"/>
<rect x="1089" y="947" width="3" height="1"/><rect x="1094" y="947" width="3" height="1"/>
<rect x="1165" y="947" width="3" height="1"/><rect x="1170" y="947" width="3" height="1"/>
<rect x="1242" y="947" width="3" height="1"/><rect x="1247" y="947" width="3" height="1"/>
<rect x="1318" y="947" width="3" height="1"/><rect x="1323" y="947" width="3" height="1"/>
<rect x="1395" y="947" width="3" height="1"/><rect x="1400" y="947" width="3" height="1"/>
<rect x="1471" y="947" width="3" height="1"/><rect x="1476" y="947" width="3" height="1"/>
<rect x="1548" y="947" width="3" height="1"/><rect x="1553" y="947" width="3" height="1"/>
<rect x="1624" y="947" width="3" height="1"/><rect x="1629" y="947" width="3" height="1"/>
<rect x="1700" y="947" width="3" height="1"/><rect x="1705" y="947" width="3" height="1"/>
<rect x="1777" y="947" width="3" height="1"/><rect x="1782" y="947" width="3" height="1"/>
<rect x="1853" y="947" width="3" height="1"/><rect x="1858" y="947" width="3" height="1"/>
</g><rect x="395" y="946" width="8" height="2" fill="#8a90c0"/><rect x="403" y="946" width="12" height="1" fill="#e08a90"/>
</svg>
<div class="tb">
<span class="m" style="left:3.5px">Daily</span><i class="ca" style="left:40px"></i>
<span class="m" style="left:70px;letter-spacing:-0.2px">Technical</span><i class="ca" style="left:134px"></i>
<span class="m" style="left:164px;letter-spacing:-0.2px">Display</span><i class="ca" style="left:215.5px"></i>
<span class="m" style="left:245px">More</span><i class="ca" style="left:282.5px"></i>
<svg class="ic" style="left:313px;top:10px" width="17" height="15" viewBox="313 10 17 15"><path d="M314.5 22.5V12.3Q314.5 11.5 315.3 11.5H319.2L320.8 13.3H325.2Q326 13.3 326 14.1V15.6" fill="none" stroke="#333" stroke-width="1"/><path d="M318.6 16.1H328.9L326 23.3H314.9Z" fill="#333"/></svg>
<svg class="ic" style="left:347px;top:9px" width="17" height="17" viewBox="347 9 17 17"><path d="M349.7 9.9H359.8L363.1 13V23.4Q363.1 24.9 361.6 24.9H349.7Q348.2 24.9 348.2 23.4V11.4Q348.2 9.9 349.7 9.9Z" fill="#333"/><rect x="352" y="10.8" width="7.4" height="3.9" fill="#fff"/><rect x="356.5" y="11.3" width="1.5" height="2.6" fill="#333"/><rect x="350.3" y="17.2" width="10.6" height="6.3" rx="1.2" fill="#fff"/></svg>
<div style="position:absolute;left:381px;top:14.4px;width:15px;height:3.6px;background:#111"></div>
<div style="position:absolute;left:417px;top:14.4px;width:15px;height:3.6px;background:#111"></div>
<div style="position:absolute;left:422.4px;top:8.8px;width:3.8px;height:15px;background:#111"></div>
<div class="sep" style="left:395px"></div><div class="sep" style="left:430px"></div>
</div>
<div style="position:absolute;will-change:transform;left:7px;top:55.5px;font-size:11px;font-weight:bold;line-height:13px;color:#333;white-space:nowrap;letter-spacing:-0.1px">SPOT, GOLD</div>
<div class="lb" style="left:0;top:682px;width:110.5px;height:23px"></div>
<div class="lb" style="left:113.3px;top:682px;width:137.7px;height:23px"></div>
<div class="lb" style="left:0;top:764px;width:72px;height:25px"></div>
<div class="lb" style="left:1.4px;top:689.5px;background:none"><b>VWAP</b> <span style="word-spacing:0.8px">20 1 2 3</span></div>
<div class="lb" style="left:118.7px;top:689.5px;background:none"><b>AUTO TREND</b> <span style="word-spacing:0.8px">4 3 2</span></div>
<svg class="ic" style="left:77px;top:689px" width="12" height="12" viewBox="-6 -6 12 12"><g fill="#9a9a9a"><rect x="-1.35" y="-5.9" width="2.7" height="11.8" transform="rotate(0)"/><rect x="-1.35" y="-5.9" width="2.7" height="11.8" transform="rotate(45)"/><rect x="-1.35" y="-5.9" width="2.7" height="11.8" transform="rotate(90)"/><rect x="-1.35" y="-5.9" width="2.7" height="11.8" transform="rotate(135)"/><circle r="4.3"/></g><circle r="2" fill="#fff"/></svg><svg class="ic" style="left:95px;top:690px" width="10" height="10" viewBox="0 0 10 10"><path d="M1.3 1.3L8.7 8.7M8.7 1.3L1.3 8.7" stroke="#9a9a9a" stroke-width="2.6" stroke-linecap="butt"/></svg><svg class="ic" style="left:217px;top:689px" width="12" height="12" viewBox="-6 -6 12 12"><g fill="#9a9a9a"><rect x="-1.35" y="-5.9" width="2.7" height="11.8" transform="rotate(0)"/><rect x="-1.35" y="-5.9" width="2.7" height="11.8" transform="rotate(45)"/><rect x="-1.35" y="-5.9" width="2.7" height="11.8" transform="rotate(90)"/><rect x="-1.35" y="-5.9" width="2.7" height="11.8" transform="rotate(135)"/><circle r="4.3"/></g><circle r="2" fill="#fff"/></svg><svg class="ic" style="left:235px;top:690px" width="10" height="10" viewBox="0 0 10 10"><path d="M1.3 1.3L8.7 8.7M8.7 1.3L1.3 8.7" stroke="#9a9a9a" stroke-width="2.6" stroke-linecap="butt"/></svg>
<div class="lb" style="left:1.5px;top:771px;background:none"><b style="letter-spacing:-0.5px">RSI</b> <span style="color:#666">14</span></div>
<svg class="ic" style="left:37px;top:772px" width="12" height="12" viewBox="-6 -6 12 12"><g fill="#9a9a9a"><rect x="-1.35" y="-5.9" width="2.7" height="11.8" transform="rotate(0)"/><rect x="-1.35" y="-5.9" width="2.7" height="11.8" transform="rotate(45)"/><rect x="-1.35" y="-5.9" width="2.7" height="11.8" transform="rotate(90)"/><rect x="-1.35" y="-5.9" width="2.7" height="11.8" transform="rotate(135)"/><circle r="4.3"/></g><circle r="2" fill="#fff"/></svg><svg class="ic" style="left:55px;top:773px" width="10" height="10" viewBox="0 0 10 10"><path d="M1.3 1.3L8.7 8.7M8.7 1.3L1.3 8.7" stroke="#9a9a9a" stroke-width="2.6" stroke-linecap="butt"/></svg>
<svg class="ic" style="left:76px;top:770px" width="14" height="14" viewBox="76 770 14 14"><path d="M82.5 782.8V771.4M77 777L82.5 771.3L88 777" fill="none" stroke="#444" stroke-width="1.1"/></svg>
</body></html>
